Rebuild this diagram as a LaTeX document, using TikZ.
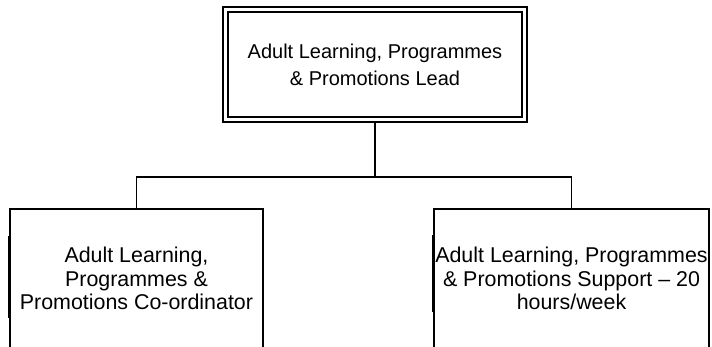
\documentclass[tikz,border=0pt]{standalone}
\usepackage{fontspec}
\setmainfont{Liberation Sans}
\usetikzlibrary{positioning}

\begin{document}
\begin{tikzpicture}[
		x=1pt, y=1pt,
		leadbox/.style={draw, line width=1.2pt, minimum width=304pt, minimum height=115pt, align=center, inner sep=0pt, font=\fontsize{20}{27}\selectfont},
		postbox/.style={draw, line width=1.3pt, minimum height=139pt, align=center, inner sep=0pt, font=\fontsize{21.4}{23.5}\selectfont},
		link/.style={line width=1.5pt},
		sidebar/.style={line width=2.5pt}
		]
		\useasboundingbox (0,0) rectangle (712,346);
		
		% Top level
		\node[leadbox] (lead) at (375,281.5) {Adult Learning, Programmes\\ \& Promotions Lead};
		\draw[line width=2pt] ([shift={(6,6)}]lead.south west) rectangle ([shift={(-6,-6)}]lead.north east);
		
		% Posts below
		\node[postbox, minimum width=253pt] (coord) at (136.5,67.5) {Adult Learning,\\ Programmes \&\\ Promotions Co-ordinator};
		\node[postbox, minimum width=275pt] (supp) at (571.5,67.5) {Adult Learning, Programmes\\ \& Promotions Support -- 20\\ hours/week};
		
		\draw[sidebar] ([yshift=-28]coord.north west) -- ([yshift=-110]coord.north west);
		\draw[sidebar] ([yshift=-27]supp.north west) -- ([yshift=-104]supp.north west);
		
		% Connectors
		\coordinate (bus) at (375,169);
		\draw[link] (lead) -- (bus);
		\draw[link] (coord.north) |- (bus) -| (supp.north);
		
	\end{tikzpicture}
\end{document}
